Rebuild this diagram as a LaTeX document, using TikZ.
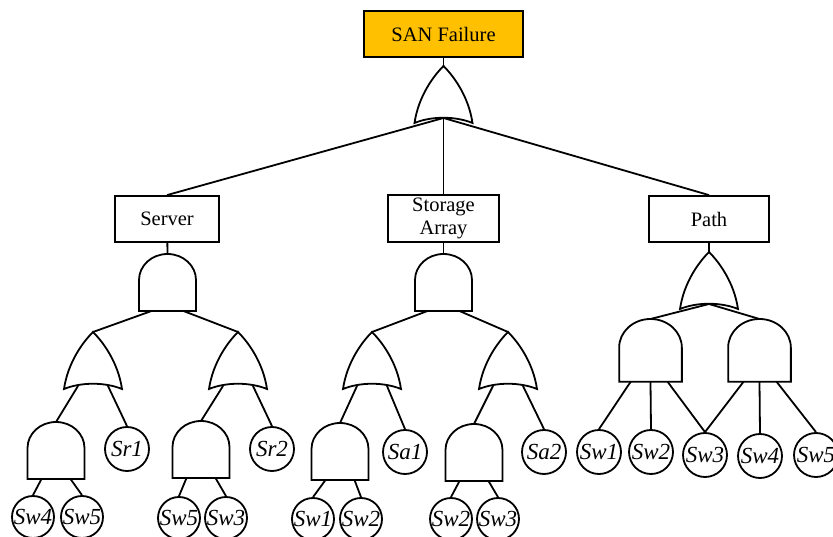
\documentclass[tikz,border=0pt]{standalone}
\usepackage{fontspec}
\setmainfont{Liberation Serif}
\newfontfamily\serfont{Liberation Serif}
\usetikzlibrary{calc}
\definecolor{sanorange}{HTML}{FFC000}
\tikzset{
  box/.style={draw, fill=white, minimum height=46pt, inner sep=0pt, align=center,
    font=\serfont\fontsize{20.5}{23}\selectfont},
  topbox/.style={box, fill=sanorange},
  leaf/.style={draw, circle, minimum size=44pt, inner sep=0pt,
    font=\serfont\fontsize{23}{24}\selectfont\itshape},
  leafs/.style={leaf, minimum size=42pt},
  andgate/.pic={
    \draw (-28.5,57) -- (-28.5,26) .. controls (-28.5,11.6) and (-15.7,0) .. (0,0)
      .. controls (15.7,0) and (28.5,11.6) .. (28.5,26) -- (28.5,57) -- cycle;
    \coordinate (-top) at (0,0);
    \coordinate (-l) at (-14.5,57);
    \coordinate (-r) at (14.5,57);
    \coordinate (-ll) at (-18,57);
    \coordinate (-rr) at (15.5,57);
    \coordinate (-c) at (0,57);
  },
  orgate/.pic={
    \draw (0,0) .. controls (-10,10) and (-25,30) .. (-29,57)
      .. controls (-12,50) and (12,50) .. (29,57)
      .. controls (25,30) and (10,10) .. (0,0) -- cycle;
    \coordinate (-top) at (0,0);
    \coordinate (-l) at (-15,54);
    \coordinate (-r) at (15,54);
    \coordinate (-c) at (0,52);
  }
}
\begin{document}
\begin{tikzpicture}[x=1pt,y=-1pt,line width=1.8pt]
\useasboundingbox (0,0) rectangle (833,537);
\clip (0,0) rectangle (833,537);
% top level
\node[topbox, minimum width=159pt] (top) at (443.5,34) {SAN Failure};
\pic (g0) at (443.5,66) {orgate};
\draw (top) -- (g0-top);
\node[box, minimum width=104pt] (server) at (167,219) {Server};
\node[box, minimum width=111pt, minimum height=47pt] (storage) at (443.5,218.5) {Storage\\Array};
\node[box, minimum width=120pt] (path) at (709,219) {Path};
\draw (g0-c) -- (server.north);
\draw (g0-c) -- (storage.north);
\draw (g0-c) -- (path.north);
% second level gates
\pic (a1) at (167.5,254) {andgate};
\pic (a2) at (443.5,254) {andgate};
\pic (o3) at (709,252) {orgate};
\draw (server) -- (a1-top);
\draw (storage) -- (a2-top);
\draw (path) -- (o3-top);
% server branch
\pic (o11) at (93,332) {orgate};
\pic (o12) at (238,332) {orgate};
\coordinate (a1x) at ($(a1-c)+(-16,0)$);
\coordinate (a1y) at ($(a1-c)+(16,0)$);
\draw (a1x) -- (o11-top);
\draw (a1y) -- (o12-top);
\pic (a111) at (56,422) {andgate};
\pic (a121) at (201,421) {andgate};
\node[leaf] (sr1) at (127,449) {Sr1};
\node[leaf] (sr2) at (272,449) {Sr2};
\draw (o11-l) -- (a111-top);
\draw (o11-r) -- (sr1.north);
\draw (o12-l) -- (a121-top);
\draw (o12-r) -- (sr2.north);
\node[leafs] (l1) at (33,517) {Sw4};
\node[leafs] (l2) at (82,517) {Sw5};
\node[leafs] (l3) at (179,518) {Sw5};
\node[leafs] (l4) at (226,518) {Sw3};
\draw (a111-l) -- (l1.north);
\draw (a111-r) -- (l2.north);
\draw (a121-l) -- (l3.north);
\draw (a121-r) -- (l4.north);
% storage branch
\pic (o21) at (372,332) {orgate};
\pic (o22) at (508,332) {orgate};
\coordinate (a2x) at ($(a2-c)+(-16,0)$);
\coordinate (a2y) at ($(a2-c)+(16,0)$);
\draw (a2x) -- (o21-top);
\draw (a2y) -- (o22-top);
\pic (a211) at (340,423) {andgate};
\pic (a221) at (474,424) {andgate};
\node[leaf] (sa1) at (405,452) {Sa1};
\node[leaf] (sa2) at (544,452) {Sa2};
\draw (o21-l) -- (a211-top);
\draw (o21-r) -- (sa1.north);
\draw (o22-l) -- (a221-top);
\draw (o22-r) -- (sa2.north);
\node[leafs] (l5) at (313,519) {Sw1};
\node[leafs] (l6) at (361,519) {Sw2};
\node[leafs] (l7) at (451,519) {Sw2};
\node[leafs] (l8) at (498,519) {Sw3};
\draw (a211-l) -- (l5.north);
\draw (a211-r) -- (l6.north);
\draw (a221-l) -- (l7.north);
\draw (a221-r) -- (l8.north);
% path branch
\pic[scale=1.1] (a31) at (650.5,319) {andgate};
\pic[scale=1.1] (a32) at (759.5,319) {andgate};
\draw (o3-c) -- (a31-top);
\draw (o3-c) -- (a32-top);
\node[leaf] (p1) at (599,452) {Sw1};
\node[leaf] (p2) at (651,452) {Sw2};
\node[leaf] (p3) at (705,455) {Sw3};
\node[leaf] (p4) at (760,456) {Sw4};
\node[leaf] (p5) at (816,455) {Sw5};
\draw (a31-ll) -- (p1.north);
\draw (a31-c) -- (p2.north);
\draw (a31-rr) -- (p3.north);
\draw (a32-l) -- (p3.north);
\draw (a32-c) -- (p4.north);
\draw (a32-rr) -- (p5.north);
\end{tikzpicture}
\end{document}
